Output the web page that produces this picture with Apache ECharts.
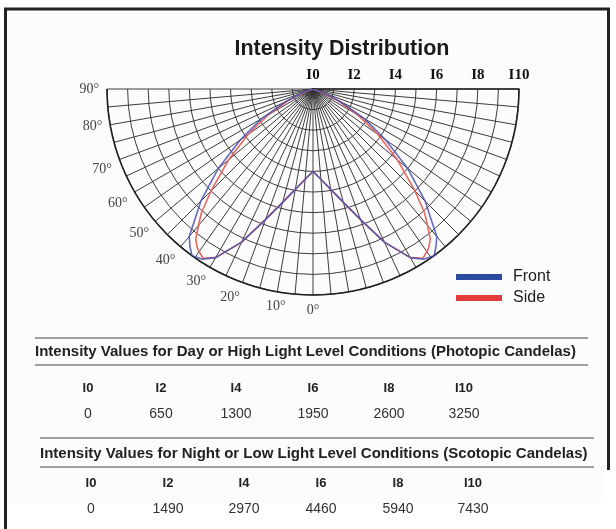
<!DOCTYPE html>
<html>
<head>
<meta charset="utf-8">
<script src="https://cdn.jsdelivr.net/npm/echarts@6/dist/echarts.min.js"></script>
<style>
html,body{margin:0;padding:0;background:#fff;}
#chart{width:616px;height:529px;}
</style>
</head>
<body>
<div id="chart"></div>
<script>
// ---- data ----
const titleText = 'Intensity Distribution';
const angles = [0, 5, 10, 15, 20, 25, 30, 33, 36, 38, 40, 42, 45, 50, 55, 60, 65, 70, 75, 80, 85, 90];
const frontValues = [4.0, 4.4, 4.95, 5.7, 6.75, 8.2, 9.45, 9.85, 10.0, 9.7, 9.35, 8.6, 7.7, 6.0, 4.3, 2.9, 1.5, 0.6, 0, 0, 0, 0];
const sideValues  = [4.0, 4.4, 4.95, 5.7, 6.75, 8.2, 9.45, 9.8, 9.55, 9.25, 8.65, 8.1, 7.0, 5.35, 3.85, 2.5, 1.35, 0.45, 0, 0, 0, 0];
const seriesNames = ['Front', 'Side'];
const radiusTicks = [0, 2, 4, 6, 8, 10];
const dayHeader = 'Intensity Values for Day or High Light Level Conditions (Photopic Candelas)';
const nightHeader = 'Intensity Values for Night or Low Light Level Conditions (Scotopic Candelas)';
const tableLabels = ['I0', 'I2', 'I4', 'I6', 'I8', 'I10'];
const dayValues = ['0', '650', '1300', '1950', '2600', '3250'];
const nightValues = ['0', '1490', '2970', '4460', '5940', '7430'];

// mirror a half-curve (angles 0..90) into a full symmetric curve (-90..90)
function buildCurve(vals) {
  const out = [];
  for (let i = angles.length - 1; i >= 0; i--) out.push([vals[i], angles[i]]);
  for (let i = 1; i < angles.length; i++) out.push([vals[i], -angles[i]]);
  return out;
}

const chart = echarts.init(document.getElementById('chart'), null, {renderer: 'canvas'});

const sans = 'Liberation Sans, Arial, sans-serif';
const serif = 'Liberation Serif, Times New Roman, serif';

const graphics = [];
// frame
graphics.push({type: 'rect', shape: {x: 8, y: 10, width: 598, height: 493}, style: {fill: '#fcfcfc'}, silent: true, z: -10});
graphics.push({type: 'polyline', shape: {points: [[5.5, 529], [5.5, 9], [608.5, 9], [608.5, 470]]}, style: {stroke: '#222', lineWidth: 3, fill: null}, silent: true});

// table
function hline(y, x1, x2) {
  graphics.push({type: 'line', shape: {x1: x1, y1: y, x2: x2, y2: y}, style: {stroke: '#a0a0a0', lineWidth: 2}, silent: true});
}
function txt(x, y, s, font, align, color) {
  graphics.push({type: 'text', x: x, y: y, style: {text: s, font: font, textAlign: align || 'center', textVerticalAlign: 'middle', fill: color || '#222'}, silent: true});
}
const colX1 = [88, 161, 236, 313, 389, 464];
const colX2 = [91, 168, 244, 321, 398, 473];
hline(338, 35, 588);
txt(35, 352, dayHeader, 'bold 15px ' + sans, 'left');
hline(365, 35, 588);
tableLabels.forEach((l, i) => txt(colX1[i], 388, l, 'bold 13px ' + sans));
dayValues.forEach((v, i) => txt(colX1[i], 414, v, '14px ' + sans, 'center', '#333'));
hline(438, 40, 594);
txt(40, 454, nightHeader, 'bold 15px ' + sans, 'left');
hline(467, 40, 594);
tableLabels.forEach((l, i) => txt(colX2[i], 483, l, 'bold 13px ' + sans));
nightValues.forEach((v, i) => txt(colX2[i], 509, v, '14px ' + sans, 'center', '#333'));

const option = {
  backgroundColor: '#ffffff',
  animation: false,
  title: {
    text: titleText,
    left: 337, top: 33, textAlign: 'center',
    textStyle: {fontFamily: sans, fontWeight: 'bold', fontSize: 21.5, color: '#1a1a1a'}
  },
  legend: {
    data: seriesNames,
    orient: 'vertical',
    left: 451, top: 264,
    icon: 'rect', itemWidth: 46, itemHeight: 6, itemGap: 5,
    textStyle: {fontFamily: sans, fontSize: 16, color: '#222', padding: [0, 0, 0, 6]}
  },
  polar: {center: [313, 89], radius: 206},
  angleAxis: {
    type: 'value', min: -90, max: 90, interval: 5,
    startAngle: 0, endAngle: -180, clockwise: true,
    axisLine: {show: true, lineStyle: {color: '#222', width: 1.6}},
    axisTick: {show: false},
    axisLabel: {
      show: true, margin: 8,
      formatter: function (v) { return (v >= 0 && v % 10 === 0) ? v + '°' : ''; },
      fontFamily: serif, fontSize: 14, color: '#444'
    },
    splitLine: {show: true, lineStyle: {color: '#333', width: 0.95}}
  },
  radiusAxis: {
    type: 'value', min: 0, max: 10, interval: 1,
    axisLine: {show: true, lineStyle: {color: '#222', width: 1.6}},
    axisTick: {show: false},
    axisLabel: {
      show: true, margin: 6,
      formatter: function (v) { return radiusTicks.indexOf(v) >= 0 ? 'I' + v : ''; },
      fontFamily: serif, fontWeight: 'bold', fontSize: 15, color: '#111'
    },
    splitLine: {show: true, lineStyle: {color: '#333', width: 0.95}}
  },
  series: [
    {
      name: 'Side', type: 'line', coordinateSystem: 'polar',
      data: buildCurve(sideValues), symbol: 'none', smooth: false,
      itemStyle: {color: '#e23b3b'},
      lineStyle: {color: '#e8665e', width: 1.6}, z: 3
    },
    {
      name: 'Front', type: 'line', coordinateSystem: 'polar',
      data: buildCurve(frontValues), symbol: 'none', smooth: false,
      itemStyle: {color: '#2a4b9f'},
      lineStyle: {color: '#4a50b0', width: 1.6, opacity: 0.85}, z: 4
    }
  ],
  graphic: graphics
};
chart.setOption(option);
</script>
</body>
</html>
